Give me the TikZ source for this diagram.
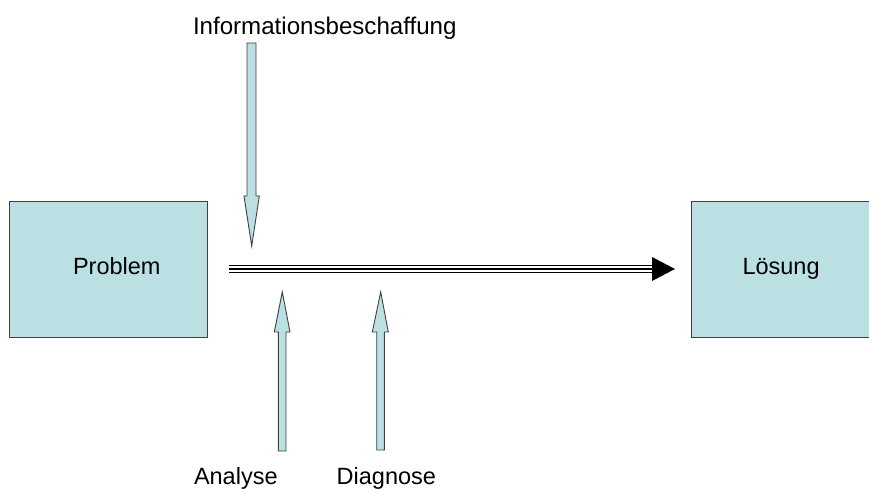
\documentclass[tikz,border=0pt]{standalone}
\usepackage{fontspec}
\setmainfont{Liberation Sans}
\definecolor{boxblue}{HTML}{BBE0E3}
\definecolor{edgegray}{HTML}{404040}
\begin{document}
\begin{tikzpicture}[x=1bp,y=-1bp,
  box/.style={draw=edgegray,fill=boxblue,line width=0.9bp,inner sep=0,outer sep=0},
  blockarrow/.style={draw=edgegray,fill=boxblue,line width=0.9bp,line join=miter},
  lbl/.style={inner sep=0,outer sep=0,anchor=base west,font=\fontsize{23.5bp}{28bp}\selectfont}]
\useasboundingbox (0,0) rectangle (869,493);
% boxes
\node[box,minimum width=198bp,minimum height=136bp] (problem) at (108,269) {};
\node[box,minimum width=190bp,minimum height=136bp] (loesung) at (786,269) {};
\node[lbl] (problemtxt) at (73,275) {Problem};
\node[lbl] (loesungtxt) at (742.5,275) {Lösung};
% labels
\node[lbl,font=\fontsize{24.1bp}{28bp}\selectfont] (info) at (193,35) {Informationsbeschaffung};
\node[lbl] (analyse) at (194,484.3) {Analyse};
\node[lbl] (diagnose) at (336.7,484.3) {Diagnose};
% main triple-line arrow
\coordinate (mstart) at (229,269);
\coordinate (mend) at (653,269);
\draw[black,line width=8.7bp] (mstart) -- (mend);
\draw[white,line width=6.1bp] ([xshift=-1bp]mstart) -- ([xshift=1bp]mend);
\draw[black,line width=1.3bp] (mstart) -- (mend);
\fill[black] (652,257) -- (675,269) -- (652,281) -- cycle;
% block arrow down (Informationsbeschaffung)
\draw[blockarrow] (247,43) -- (256,43) -- (256,196) -- (259.3,196) -- (251.7,246) -- (244,196) -- (247,196) -- cycle;
% block arrow up (Analyse)
\draw[blockarrow] (278.3,451) -- (286,451) -- (286,332) -- (290,332) -- (282.3,292) -- (274.3,332) -- (278.3,332) -- cycle;
% block arrow up (Diagnose)
\draw[blockarrow] (376.7,450) -- (384.3,450) -- (384.3,332) -- (388.3,332) -- (380.7,292) -- (372.3,332) -- (376.7,332) -- cycle;
\end{tikzpicture}
\end{document}
